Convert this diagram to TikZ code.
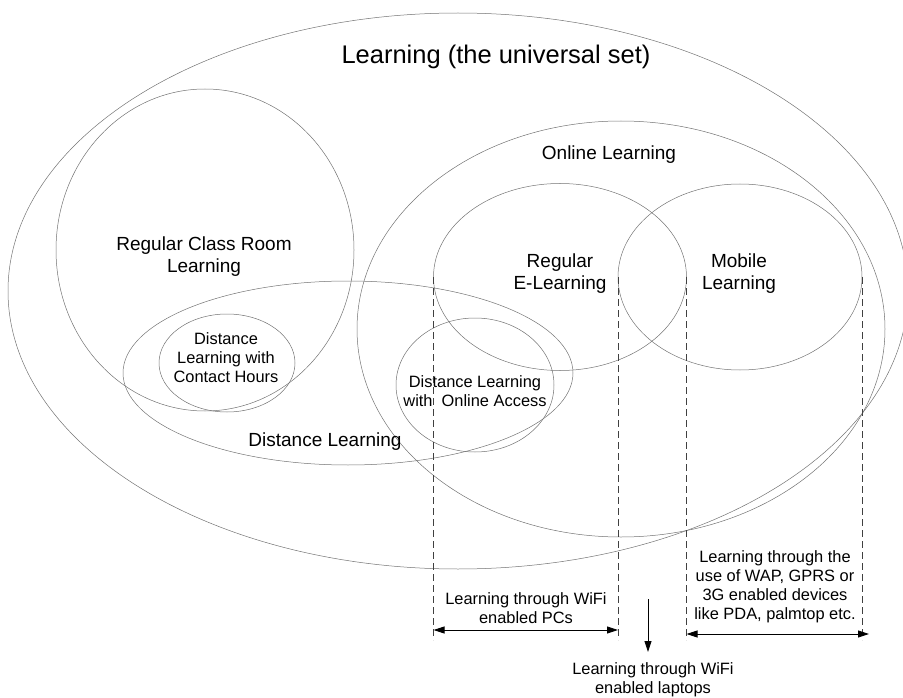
\documentclass[tikz,border=0pt]{standalone}
\usepackage{fontspec}
\setmainfont{Liberation Sans}
\usetikzlibrary{shapes.geometric,arrows.meta}

\tikzset{
  setline/.style={ellipse, draw=black!55, line width=0.5pt, inner sep=0pt, outer sep=0pt},
  bigtxt/.style={font=\fontsize{25.5}{30}\selectfont},
  midtxt/.style={font=\fontsize{19}{22}\selectfont, align=center},
  smalltxt/.style={font=\fontsize{16.4}{19}\selectfont, align=center, inner sep=2pt},
  guide/.style={draw=black!75, dash pattern=on 7pt off 4pt, line width=0.7pt},
  spanarrow/.style={{Triangle[length=11pt,width=7pt]}-{Triangle[length=11pt,width=7pt]}, line width=0.9pt},
  downarrow/.style={-{Triangle[length=11pt,width=7pt]}, line width=0.9pt}
}

\begin{document}
\begin{tikzpicture}[x=1pt, y=-1pt]
    \useasboundingbox (0,0) rectangle (903,698);

    % the sets
    \node[setline, minimum width=900pt, minimum height=556pt] (universe) at (458,291) {};
    \node[setline, minimum width=298pt, minimum height=322pt] (classroom) at (205,250) {};
    \node[setline, minimum width=450pt, minimum height=184pt] (distance) at (348,373) {};
    \node[setline, minimum width=136pt, minimum height=98pt] (contact) at (227,363) {};
    \node[setline, minimum width=528pt, minimum height=416pt] (online) at (621,329) {};
    \node[setline, minimum width=253pt, minimum height=187pt] (elearn) at (560,277) {};
    \node[setline, minimum width=244pt, minimum height=186pt] (mobile) at (740,277) {};
    \node[setline, minimum width=158pt, minimum height=134pt] (access) at (475,385) {};

    % names of the sets
    \node[bigtxt] (title) at (496,57) {Learning (the universal set)};
    \node[midtxt] (classroom-lbl) at (204,257) {Regular Class Room\\Learning};
    \node[midtxt] (online-lbl) at (609,155) {Online Learning};
    \node[midtxt] (elearn-lbl) at (560,274) {Regular\\E-Learning};
    \node[midtxt] (mobile-lbl) at (739,274) {Mobile\\Learning};
    \node[midtxt] (distance-lbl) at (325,442) {Distance Learning};
    \node[smalltxt] (contact-lbl) at (226,358) {Distance\\Learning with\\Contact Hours};
    \node[smalltxt] (access-lbl) at (475,391) {Distance Learning\\with\ \ Online Access};

    % notes below
    \node[smalltxt] (pcs) at (526,608) {Learning through WiFi\\enabled PCs};
    \node[smalltxt] (devices) at (775,587) {Learning through the\\use of WAP, GPRS or\\3G enabled devices\\like PDA, palmtop etc.};
    \node[smalltxt] (laptops) at (653,680) {Learning through WiFi\\enabled laptops};

    % dashed guides
    \coordinate (g1) at (elearn.west |- 0,640);
    \coordinate (g2) at (mobile.west |- 0,640);
    \coordinate (g3) at (elearn.east |- 0,640);
    \coordinate (g4) at (mobile.east |- 0,640);
    \draw[guide] (elearn.west) -- (g1);
    \draw[guide] (mobile.west) -- (g2);
    \draw[guide] (elearn.east) -- (g3);
    \draw[guide] (mobile.east) -- (g4);

    % arrows
    \coordinate (pcs-l) at (elearn.west |- 0,630);
    \coordinate (pcs-r) at (mobile.west |- 0,630);
    \draw[spanarrow] (pcs-l) -- (pcs-r);
    \coordinate (dev-l) at (elearn.east |- 0,634);
    \coordinate (dev-r) at (869,634);
    \draw[spanarrow] (dev-l) -- (dev-r);
    \coordinate (lap-top) at (648,599);
    \coordinate (lap-tip) at (648,652);
    \draw[downarrow] (lap-top) -- (lap-tip);
\end{tikzpicture}
\end{document}
